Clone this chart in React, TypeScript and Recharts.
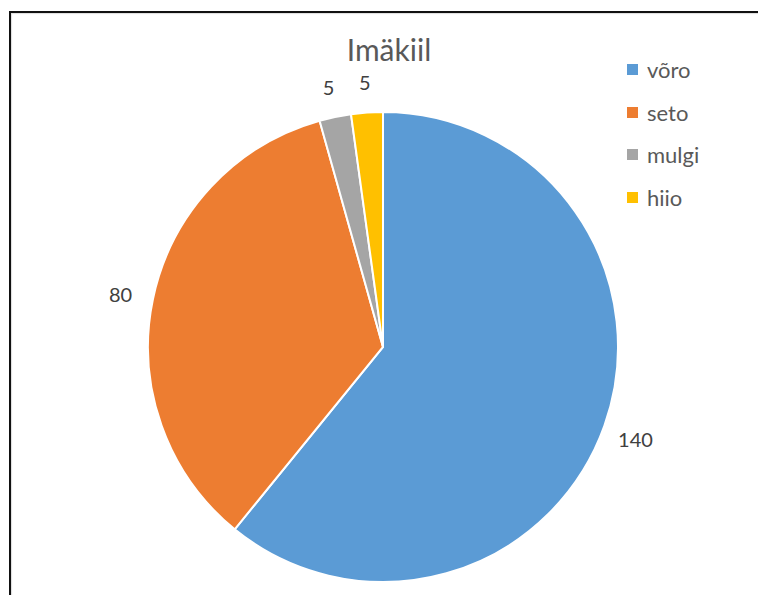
import React from "react";
import { PieChart, Pie, Cell, Legend } from "recharts";

const categories = ["võro", "seto", "mulgi", "hiio"];
const values = [140, 80, 5, 5];
const colors = ["#5B9BD5", "#ED7D31", "#A5A5A5", "#FFC000"];
const title = "Imäkiil";

const data = categories.map((name, i) => ({ name, value: values[i] }));

const FONT = "Lato, 'Open Sans', sans-serif";
const RAD = Math.PI / 180;

const renderLabel = (props: any) => {
  const { cx, cy, midAngle, outerRadius, value } = props;
  const r = outerRadius + 33;
  const x = cx + r * Math.cos(-midAngle * RAD);
  const y = cy + r * Math.sin(-midAngle * RAD);
  return (
    <text
      x={x}
      y={y + 2}
      fill="#404040"
      fontSize={20}
      fontFamily={FONT}
      textAnchor="middle"
      dominantBaseline="central"
    >
      {value}
    </text>
  );
};

const LegendContent = () => (
  <div style={{ fontFamily: FONT }}>
    {categories.map((c, i) => (
      <div
        key={c}
        style={{ display: "flex", alignItems: "center", height: 42.7 }}
      >
        <div
          style={{
            width: 11,
            height: 11,
            background: colors[i],
            marginRight: 9,
          }}
        />
        <span style={{ fontSize: 22, color: "#595959" }}>{c}</span>
      </div>
    ))}
  </div>
);

export default function App() {
  return (
    <div
      style={{
        position: "absolute",
        left: 0,
        top: 0,
        width: 758,
        height: 595,
        background: "#fff",
        overflow: "hidden",
      }}
    >
      <div
        style={{
          position: "absolute",
          left: 9,
          top: 11,
          width: 780,
          height: 640,
          borderLeft: "2px solid #111",
          borderTop: "2px solid #111",
          boxShadow: "inset 1px 1px 1px #ddd",
        }}
      />
      <div
        style={{
          position: "absolute",
          left: 0,
          width: 778,
          top: 31,
          textAlign: "center",
          fontFamily: FONT,
          fontSize: 30,
          color: "#595959",
        }}
      >
        {title}
      </div>
      <div style={{ position: "absolute", left: 0, top: 0 }}>
        <PieChart
          width={758}
          height={595}
          margin={{ top: 0, right: 0, bottom: 0, left: 0 }}
        >
          <Pie
            data={data}
            dataKey="value"
            nameKey="name"
            cx={383}
            cy={347}
            outerRadius={235}
            startAngle={90}
            endAngle={-270}
            stroke="#fff"
            strokeWidth={2}
            label={renderLabel}
            labelLine={false}
            isAnimationActive={false}
          >
            {data.map((d, i) => (
              <Cell key={d.name} fill={colors[i]} />
            ))}
          </Pie>
          <Legend
            content={<LegendContent />}
            wrapperStyle={{ position: "absolute", left: 627, top: 48, width: 120 }}
          />
        </PieChart>
      </div>
    </div>
  );
}
